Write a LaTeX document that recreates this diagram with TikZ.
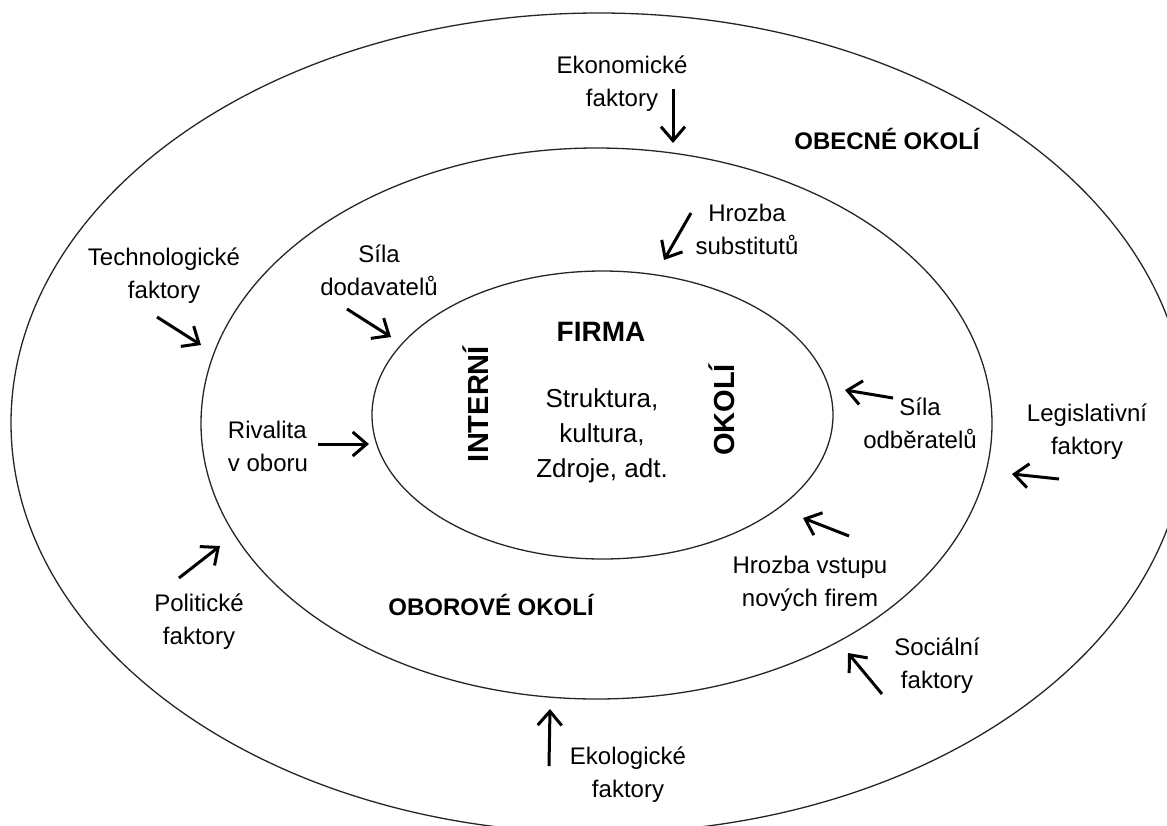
\documentclass[tikz,border=0pt]{standalone}
\usepackage{fontspec}
\setmainfont{Liberation Sans}
\usetikzlibrary{arrows.meta,shapes.geometric}
\begin{document}
\begin{tikzpicture}[x=0.5pt,y=-0.5pt,
  ring/.style={draw=black!85, line width=0.65pt, ellipse, inner sep=0pt, outer sep=0pt},
  lbl/.style={align=center, font=\fontsize{12}{16.5}\selectfont, text=black, inner sep=0pt},
  zone/.style={font=\bfseries\fontsize{12}{14}\selectfont, text=black, inner sep=0pt},
  side/.style={font=\bfseries\fontsize{14.5}{16}\selectfont, text=black, rotate=90, inner sep=0pt},
  push/.style={line width=1.5pt, black, -{Straight Barb[length=7pt,width=12pt]}}
]
\useasboundingbox (0,0) rectangle (1167,825);
\clip (0,0) rectangle (1167,825);
\fill[white] (0,0) rectangle (1167,825);

% three nested environments
\node[ring, minimum width=588pt, minimum height=410pt] (general) at (599,423) {};
\node[ring, minimum width=395.5pt, minimum height=275.5pt] (industry) at (596.5,423.5) {};
\node[ring, minimum width=230.5pt, minimum height=144pt] (firm) at (602.5,415) {};

% firm core
\node[font=\bfseries\fontsize{14}{16}\selectfont, text=black, inner sep=0pt] (firma) at (601,332) {FIRMA};
\node[side] (interni) at (476,404) {INTERNÍ};
\node[side] (okoli) at (722,410) {OKOLÍ};
\node[lbl, font=\fontsize{13}{17.5}\selectfont] (core) at (602,436) {Struktura,\\kultura,\\Zdroje, adt.};

% zone titles
\node[zone] (obecne) at (887,139) {OBECNÉ OKOLÍ};
\node[zone] (oborove) at (491,605) {OBOROVÉ OKOLÍ};

% general environment factors
\node[lbl] (ekon) at (622,84) {Ekonomické\\faktory};
\node[lbl] (techno) at (164,276) {Technologické\\faktory};
\node[lbl] (legis) at (1087,432) {Legislativní\\faktory};
\node[lbl] (polit) at (199,622) {Politické\\faktory};
\node[lbl] (social) at (937,666) {Sociální\\faktory};
\node[lbl] (ekolog) at (628,775) {Ekologické\\faktory};

% industry forces
\node[lbl] (subst) at (747,229) {Hrozba\\substitutů};
\node[lbl] (dodav) at (379,270) {Síla\\dodavatelů};
\node[lbl, align=left] (rival) at (268,446) {Rivalita\\v oboru};
\node[lbl] (odber) at (920,423) {Síla\\odběratelů};
\node[lbl] (vstup) at (810,584) {Hrozba vstupu\\nových firem};

% arrow end points
\coordinate (ekonT) at (673,89);    \coordinate (ekonH) at (673,143);
\coordinate (technoT) at (157,317); \coordinate (technoH) at (201,345);
\coordinate (dodavT) at (347,309);  \coordinate (dodavH) at (391,337);
\coordinate (rivalT) at (318,444);  \coordinate (rivalH) at (369,444);
\coordinate (substT) at (691,213);  \coordinate (substH) at (664,260);
\coordinate (odberT) at (893,398);  \coordinate (odberH) at (845,390);
\coordinate (legisT) at (1059,479); \coordinate (legisH) at (1012,474);
\coordinate (vstupT) at (849,536);  \coordinate (vstupH) at (803,518);
\coordinate (socialT) at (882,694); \coordinate (socialH) at (848,653);
\coordinate (ekologT) at (549,766); \coordinate (ekologH) at (550,709);
\coordinate (politT) at (179,578);  \coordinate (politH) at (220,546);

\draw[push] (ekonT) -- (ekonH);
\draw[push] (technoT) -- (technoH);
\draw[push] (dodavT) -- (dodavH);
\draw[push] (rivalT) -- (rivalH);
\draw[push] (substT) -- (substH);
\draw[push] (odberT) -- (odberH);
\draw[push] (legisT) -- (legisH);
\draw[push] (vstupT) -- (vstupH);
\draw[push] (socialT) -- (socialH);
\draw[push] (ekologT) -- (ekologH);
\draw[push] (politT) -- (politH);
\end{tikzpicture}
\end{document}
